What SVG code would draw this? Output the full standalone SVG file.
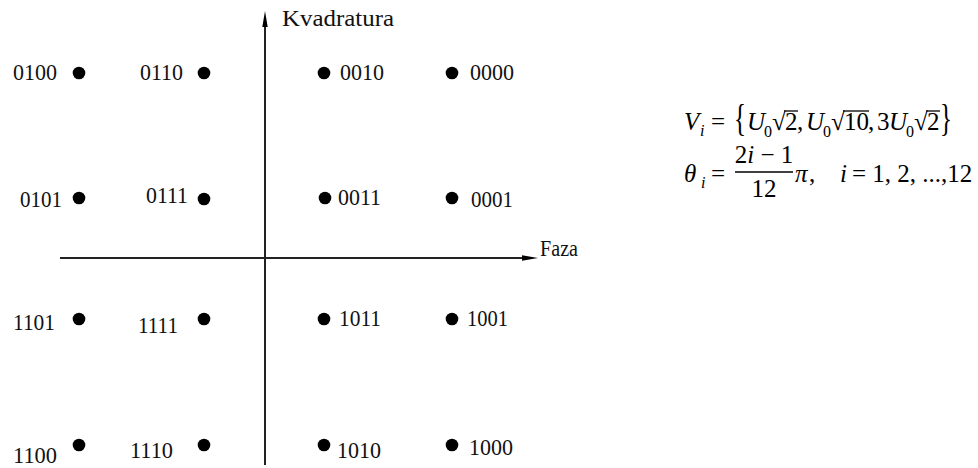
<svg xmlns="http://www.w3.org/2000/svg" width="978" height="468" viewBox="0 0 978 468">
<style>
.lbl{font-family:"Liberation Serif","DejaVu Serif","Times New Roman",serif;font-size:24px;fill:#111}
.dot{fill:#000}
.ax{stroke:#222;stroke-width:2;fill:none}
.m{font-family:"Liberation Serif","DejaVu Serif","Times New Roman",serif;font-size:25px;fill:#000}
.mi{font-style:italic}
.sub{font-size:16px}
.ov{stroke:#000;stroke-width:1.3}
</style>
<rect width="978" height="468" fill="#fff"/>
<g id="axes">
  <line class="ax" x1="265" y1="22" x2="265" y2="465"/>
  <polygon points="265,11 262.3,27 267.7,27" fill="#000"/>
  <line class="ax" x1="60" y1="258" x2="525" y2="258"/>
  <polygon points="538,258 522,255.3 522,260.7" fill="#000"/>
  <text class="lbl" x="282" y="26" textLength="112" lengthAdjust="spacingAndGlyphs">Kvadratura</text>
  <text class="lbl" x="540" y="256" textLength="38" lengthAdjust="spacingAndGlyphs">Faza</text>
</g>
<g id="n0100"><circle class="dot" cx="79" cy="73" r="6.3"/><text class="lbl" x="13" y="80" textLength="44" lengthAdjust="spacingAndGlyphs">0100</text></g>
<g id="n0110"><circle class="dot" cx="204" cy="73" r="6.3"/><text class="lbl" x="140" y="80" textLength="43" lengthAdjust="spacingAndGlyphs">0110</text></g>
<g id="n0010"><circle class="dot" cx="324" cy="73" r="6.3"/><text class="lbl" x="340" y="80" textLength="44" lengthAdjust="spacingAndGlyphs">0010</text></g>
<g id="n0000"><circle class="dot" cx="452" cy="73" r="6.3"/><text class="lbl" x="470" y="80" textLength="44" lengthAdjust="spacingAndGlyphs">0000</text></g>
<g id="n0101"><circle class="dot" cx="79" cy="198" r="6.3"/><text class="lbl" x="20" y="207" textLength="42" lengthAdjust="spacingAndGlyphs">0101</text></g>
<g id="n0111"><circle class="dot" cx="204" cy="199" r="6.3"/><text class="lbl" x="146" y="203" textLength="42" lengthAdjust="spacingAndGlyphs">0111</text></g>
<g id="n0011"><circle class="dot" cx="325" cy="198" r="6.3"/><text class="lbl" x="338" y="205" textLength="43" lengthAdjust="spacingAndGlyphs">0011</text></g>
<g id="n0001"><circle class="dot" cx="452" cy="198" r="6.3"/><text class="lbl" x="471" y="207" textLength="42" lengthAdjust="spacingAndGlyphs">0001</text></g>
<g id="n1101"><circle class="dot" cx="79" cy="319" r="6.3"/><text class="lbl" x="13" y="330" textLength="42" lengthAdjust="spacingAndGlyphs">1101</text></g>
<g id="n1111"><circle class="dot" cx="204" cy="319" r="6.3"/><text class="lbl" x="138" y="333" textLength="40" lengthAdjust="spacingAndGlyphs">1111</text></g>
<g id="n1011"><circle class="dot" cx="324" cy="319" r="6.3"/><text class="lbl" x="339" y="326" textLength="42" lengthAdjust="spacingAndGlyphs">1011</text></g>
<g id="n1001"><circle class="dot" cx="452" cy="319" r="6.3"/><text class="lbl" x="467" y="326" textLength="41" lengthAdjust="spacingAndGlyphs">1001</text></g>
<g id="n1100"><circle class="dot" cx="79" cy="445" r="6.3"/><text class="lbl" x="13" y="463" textLength="44" lengthAdjust="spacingAndGlyphs">1100</text></g>
<g id="n1110"><circle class="dot" cx="204" cy="445" r="6.3"/><text class="lbl" x="130" y="458" textLength="43" lengthAdjust="spacingAndGlyphs">1110</text></g>
<g id="n1010"><circle class="dot" cx="324" cy="445" r="6.3"/><text class="lbl" x="337" y="458" textLength="44" lengthAdjust="spacingAndGlyphs">1010</text></g>
<g id="n1000"><circle class="dot" cx="452" cy="445" r="6.3"/><text class="lbl" x="469" y="455" textLength="44" lengthAdjust="spacingAndGlyphs">1000</text></g>
<g id="formula1">
  <text class="m mi" x="684" y="130">V</text>
  <text class="m mi sub" x="700" y="136">i</text>
  <text class="m" x="711" y="130">=</text>
  <text class="m" transform="translate(734,131) scale(1,1.55)" x="0" y="0">{</text>
  <text class="m mi" x="747" y="130">U</text>
  <text class="m sub" x="764" y="137">0</text>
  <text class="m" x="772" y="130">√</text>
  <line class="ov" x1="784" y1="111" x2="798" y2="111"/>
  <text class="m" x="785" y="130">2</text>
  <text class="m" x="797" y="130">,</text>
  <text class="m mi" x="806" y="130">U</text>
  <text class="m sub" x="823" y="137">0</text>
  <text class="m" x="831" y="130">√</text>
  <line class="ov" x1="843" y1="111" x2="869" y2="111"/>
  <text class="m" x="844" y="130">10</text>
  <text class="m" x="868" y="130">,</text>
  <text class="m" x="877" y="130">3</text>
  <text class="m mi" x="889" y="130">U</text>
  <text class="m sub" x="906" y="137">0</text>
  <text class="m" x="914" y="130">√</text>
  <line class="ov" x1="926" y1="111" x2="940" y2="111"/>
  <text class="m" x="927" y="130">2</text>
  <text class="m" transform="translate(940,131) scale(1,1.55)" x="0" y="0">}</text>
</g>
<g id="formula2">
  <text class="m mi" x="684" y="182">θ</text>
  <text class="m mi sub" x="701" y="188">i</text>
  <text class="m" x="711" y="182">=</text>
  <text class="m" x="764" y="163" text-anchor="middle">2<tspan font-style="italic">i</tspan> − 1</text>
  <line x1="735" y1="172" x2="793" y2="172" stroke="#000" stroke-width="1.3"/>
  <text class="m" x="764" y="197" text-anchor="middle">12</text>
  <text class="m mi" x="795" y="182">π</text>
  <text class="m" x="809" y="182">,</text>
  <text class="m mi" x="840" y="182">i</text>
  <text class="m" x="852" y="182">= 1, 2, ...,12</text>
</g>
</svg>
